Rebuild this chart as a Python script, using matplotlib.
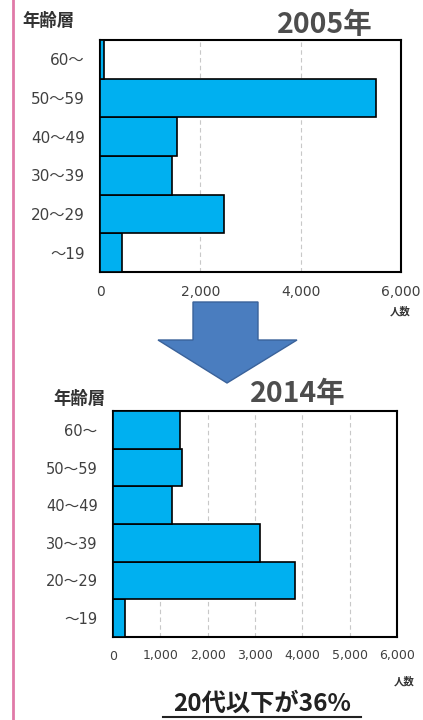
import matplotlib
matplotlib.use("Agg")
import matplotlib.pyplot as plt
from matplotlib.patches import Polygon
from matplotlib.lines import Line2D
from matplotlib.ticker import FuncFormatter

plt.rcParams['font.family'] = ['DejaVu Sans', 'Noto Sans CJK JP']

categories = ["～19", "20～29", "30～39", "40～49", "50～59", "60～"]
values_2005 = [430, 2470, 1440, 1530, 5510, 80]
values_2014 = [260, 3840, 3100, 1250, 1460, 1410]
ticks_2005 = [0, 2000, 4000, 6000]
ticks_2014 = [0, 1000, 2000, 3000, 4000, 5000, 6000]

W, H = 423, 720
fig = plt.figure(figsize=(W / 100, H / 100), dpi=100)
fig.patch.set_facecolor("white")


def px_axes(l, t, r, b):
    return fig.add_axes([l / W, 1 - b / H, (r - l) / W, (b - t) / H])


def style(ax, vals, ticks, fs_y, fs_x, pad_y, pad_x):
    ax.barh(range(len(categories)), vals, height=1.0, color="#00b0f0",
            edgecolor="black", linewidth=1.2, zorder=3)
    ax.set_xlim(0, 6000)
    ax.set_ylim(-0.5, len(categories) - 0.5)
    ax.set_xticks(ticks)
    ax.xaxis.set_major_formatter(FuncFormatter(lambda v, p: f"{int(v):,}"))
    ax.set_yticks(range(len(categories)))
    ax.set_yticklabels(categories)
    ax.tick_params(axis="both", length=0, colors="#404040")
    ax.tick_params(axis="y", labelsize=fs_y, pad=pad_y)
    ax.tick_params(axis="x", labelsize=fs_x, pad=pad_x)
    ax.grid(axis="x", linestyle=(0, (4, 3)), color="#c8c8c8", linewidth=0.8, zorder=0)
    for s in ax.spines.values():
        s.set_linewidth(1.5)
        s.set_color("black")


ax1 = px_axes(100, 40, 401, 272)
style(ax1, values_2005, ticks_2005, 11, 10, 11, 9)
ax2 = px_axes(113, 411, 397, 637)
style(ax2, values_2014, ticks_2014, 10.5, 9, 11, 9)

cjk = ['Noto Sans CJK JP', 'DejaVu Sans']

# titles
fig.text(325 / W, 1 - 25 / H, "2005年", fontsize=20.5, fontweight="bold",
         color="#4d4d4d", ha="center", va="center", family=cjk)
fig.text(298 / W, 1 - 394 / H, "2014年", fontsize=20.5, fontweight="bold",
         color="#4d4d4d", ha="center", va="center", family=cjk)

# axis captions
fig.text(22 / W, 1 - 21 / H, "年齢層", fontsize=12.5, fontweight="bold",
         color="#333333", ha="left", va="center", family=cjk)
fig.text(53 / W, 1 - 399 / H, "年齢層", fontsize=12.5, fontweight="bold",
         color="#333333", ha="left", va="center", family=cjk)
fig.text(400 / W, 1 - 311 / H, "人数", fontsize=7.5, fontweight="bold",
         color="#333333", ha="center", va="center", family=cjk)
fig.text(404 / W, 1 - 681 / H, "人数", fontsize=7.5, fontweight="bold",
         color="#333333", ha="center", va="center", family=cjk)

# bottom message
fig.text(262 / W, 1 - 704 / H, "20代以下が36%", fontsize=17.5, fontweight="bold",
         color="#222222", ha="center", va="center", family=cjk)
fig.add_artist(Line2D([163 / W, 361 / W], [1 - 717 / H, 1 - 717 / H],
                      color="#222222", linewidth=1.5))

# pink left border
fig.add_artist(Line2D([13 / W, 13 / W], [0, 1], color="#e07aa8", linewidth=2))

# arrow
pts = [(193, 302), (258, 302), (258, 340), (297, 340), (227, 383),
       (158, 340), (193, 340)]
arrow = Polygon([(x / W, 1 - y / H) for x, y in pts], closed=True,
                facecolor="#4a7dbf", edgecolor="#3a629a", linewidth=1,
                transform=fig.transFigure)
fig.add_artist(arrow)

fig.savefig("out.png", dpi=100)
